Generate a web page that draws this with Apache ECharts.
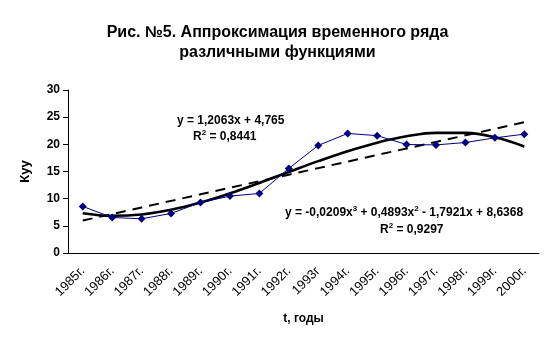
<!DOCTYPE html>
<html>
<head>
<meta charset="utf-8">
<script src="https://cdn.jsdelivr.net/npm/echarts@6/dist/echarts.min.js"></script>
<style>
  html, body { margin: 0; padding: 0; background: #fff; }
  #chart { width: 555px; height: 344px; }
</style>
</head>
<body>
<div id="chart"></div>
<script>
// Years of the series
var years = ['1985г.', '1986г.', '1987г.', '1988г.', '1989г.', '1990г.', '1991г.', '1992г.',
             '1993г', '1994г.', '1995г.', '1996г.', '1997г.', '1998г.', '1999г.', '2000г.'];
// Observed coefficient values
var kyy = [8.57, 6.54, 6.3, 7.28, 9.3, 10.47, 10.96, 15.56, 19.8, 22.0, 21.6, 19.97, 19.9, 20.33, 21.2, 21.87];
// Trend coefficients: linear (a1, a0) and cubic (a3, a2, a1, a0)
var linCoef = [1.2063, 4.765];
var cubCoef = [-0.0209, 0.4893, -1.7921, 8.6368];
var yTicks = [0, 5, 10, 15, 20, 25, 30];

// Trend values at each period t = 1..16
var linTrend = years.map(function (_, i) {
  var t = i + 1;
  return linCoef[0] * t + linCoef[1];
});
var cubTrend = years.map(function (_, i) {
  var t = i + 1;
  return ((cubCoef[0] * t + cubCoef[1]) * t + cubCoef[2]) * t + cubCoef[3];
});

var font = 'Arial, "Liberation Sans", sans-serif';
// Rich styles for equation labels: normal text and raised exponents
var eqRich = {
  n: { fontFamily: font, fontSize: 12, fontWeight: 'bold', color: '#000', lineHeight: 18, verticalAlign: 'middle' },
  sup: { fontFamily: font, fontSize: 8, fontWeight: 'bold', color: '#000', lineHeight: 8, verticalAlign: 'middle', padding: [0, 0, 8, 0] }
};

var chart = echarts.init(document.getElementById('chart'));
chart.setOption({
  animation: false,
  backgroundColor: '#fff',
  title: {
    text: 'Рис. №5. Аппроксимация временного ряда\nразличными функциями',
    left: 'center',
    top: 18,
    textStyle: { fontFamily: font, fontSize: 16, fontWeight: 'bold', color: '#000', lineHeight: 20 }
  },
  grid: { left: 68, right: 16, top: 90, bottom: 91 },
  xAxis: {
    type: 'category',
    data: years,
    name: 't, годы',
    nameLocation: 'middle',
    nameGap: 60,
    nameTextStyle: { fontFamily: font, fontSize: 12, fontWeight: 'bold', color: '#000' },
    axisLine: { lineStyle: { color: '#000', width: 1 } },
    axisTick: { length: 5, lineStyle: { color: '#000' } },
    axisLabel: { rotate: 45, interval: 0, fontFamily: font, fontSize: 13, color: '#000', margin: 16 },
    splitLine: { show: false }
  },
  yAxis: {
    type: 'value',
    min: yTicks[0],
    max: yTicks[yTicks.length - 1],
    interval: yTicks[1] - yTicks[0],
    name: 'Куу',
    nameLocation: 'middle',
    nameGap: 36,
    nameTextStyle: { fontFamily: font, fontSize: 13, fontWeight: 'bold', color: '#000' },
    axisLine: { show: true, lineStyle: { color: '#000', width: 1 } },
    axisTick: { show: true, length: 5, lineStyle: { color: '#000' } },
    axisLabel: { fontFamily: font, fontSize: 12, fontWeight: 'bold', color: '#000', margin: 8 },
    splitLine: { show: false }
  },
  series: [
    {
      name: 'Линейный тренд',
      type: 'line',
      data: linTrend,
      symbol: 'none',
      lineStyle: { color: '#000', width: 2, type: [10, 7] },
      z: 2
    },
    {
      name: 'Полиномиальный тренд',
      type: 'line',
      data: cubTrend,
      smooth: 0.4,
      symbol: 'none',
      lineStyle: { color: '#000', width: 2.6 },
      z: 3
    },
    {
      name: 'Куу',
      type: 'line',
      data: kyy,
      symbol: 'diamond',
      symbolSize: 8,
      itemStyle: { color: '#000080' },
      lineStyle: { color: '#000080', width: 1 },
      z: 4
    }
  ],
  graphic: [
    {
      type: 'text', left: 177, top: 115,
      style: { text: '{n|y = 1,2063x + 4,765}', rich: eqRich }
    },
    {
      type: 'text', left: 193, top: 129,
      style: { text: '{n|R}{sup|2}{n| = 0,8441}', rich: eqRich }
    },
    {
      type: 'text', left: 285, top: 205,
      style: { text: '{n|y = -0,0209x}{sup|3}{n| + 0,4893x}{sup|2}{n| - 1,7921x + 8,6368}', rich: eqRich }
    },
    {
      type: 'text', left: 380, top: 222,
      style: { text: '{n|R}{sup|2}{n| = 0,9297}', rich: eqRich }
    }
  ]
});
</script>
</body>
</html>
